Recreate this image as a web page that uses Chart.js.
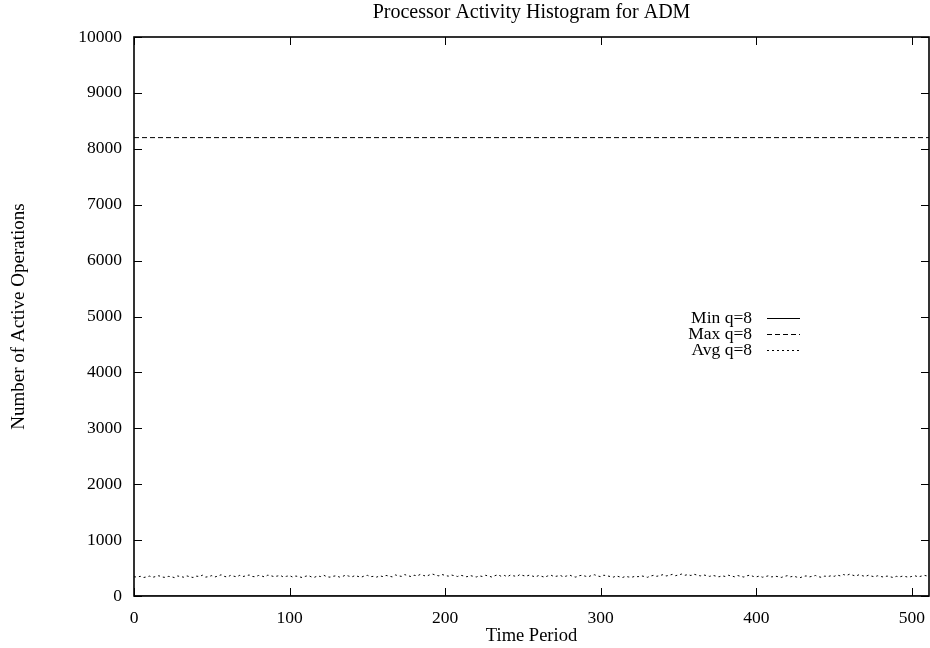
<!DOCTYPE html>
<html>
<head>
<meta charset="utf-8">
<script src="https://cdn.jsdelivr.net/npm/chart.js@4/dist/chart.umd.min.js"></script>
<style>
  html, body { margin: 0; padding: 0; background: #fff; }
  #wrap { width: 930px; height: 648px; }
</style>
</head>
<body>
<div id="wrap"><canvas id="c" width="930" height="648"></canvas></div>
<script>
// ---- data ----
const chartTitle = "Processor Activity Histogram for ADM";
const xTitle = "Time Period";
const yTitle = "Number of Active Operations";
const xTickValues = [0, 100, 200, 300, 400, 500];
const yTickValues = [0, 1000, 2000, 3000, 4000, 5000, 6000, 7000, 8000, 9000, 10000];
const seriesLabels = ["Min q=8", "Max q=8", "Avg q=8"];
const xRange = [0, 511];
const minValues = [0, 0];          // at the two ends of the period range
const maxValues = [8200, 8200];
const avgStep = 2;                  // one sample every 2 time periods
const avgValues = [
  345,338,352,330,341,356,335,348,362,340,333,351,344,329,358,347,
  336,360,342,331,355,349,372,338,346,365,341,357,380,352,339,368,
  355,343,370,348,361,376,350,344,367,358,341,373,362,347,356,369,
  340,352,364,338,357,345,331,350,366,342,335,359,348,371,344,337,
  353,362,339,348,374,356,341,365,350,336,358,370,345,352,338,361,
  347,368,356,342,377,360,351,383,364,348,372,359,386,368,354,379,
  391,372,360,384,369,355,376,362,349,371,358,344,366,353,340,361,
  348,370,357,339,364,380,352,368,345,376,361,349,383,367,354,372,
  358,341,365,352,336,360,373,347,356,369,342,358,375,350,338,362,
  371,355,343,367,380,358,346,372,361,349,337,358,344,331,352,340,
  336,353,345,361,349,334,357,370,352,366,382,358,371,387,363,376,
  392,370,383,366,389,374,360,378,365,351,369,356,343,362,349,371,
  358,344,366,352,339,361,374,350,342,357,336,348,363,341,355,346,
  332,350,364,343,355,338,326,347,360,341,353,367,345,333,356,348,
  362,351,376,359,384,368,390,372,357,380,365,349,371,356,343,362,
  349,338,357,344,331,352,340,356,347,335,351,362,342,355,369,358
];

// ---- build ----
const FONT = "'Liberation Serif', 'Times New Roman', serif";
const minData = xRange.map((x, i) => ({ x: x, y: minValues[i] }));
const maxData = xRange.map((x, i) => ({ x: x, y: maxValues[i] }));
const avgData = avgValues.map((v, i) => ({ x: i * avgStep, y: v }));

const dashes = [[], [5, 3], [2, 3]];

const frameTicks = {
  id: 'frameTicks',
  afterDatasetsDraw(chart) {
    const { ctx, chartArea: a, scales } = chart;
    ctx.save();
    ctx.strokeStyle = '#000';
    ctx.lineWidth = 1;
    const L = 8;
    ctx.beginPath();
    yTickValues.forEach(v => {
      const y = Math.round(scales.y.getPixelForValue(v)) + 0.5;
      ctx.moveTo(a.left, y); ctx.lineTo(a.left + L, y);
      ctx.moveTo(a.right, y); ctx.lineTo(a.right - L, y);
    });
    xTickValues.forEach(v => {
      const x = Math.round(scales.x.getPixelForValue(v)) + 0.5;
      ctx.moveTo(x, a.bottom); ctx.lineTo(x, a.bottom - L);
      ctx.moveTo(x, a.top); ctx.lineTo(x, a.top + L);
    });
    ctx.stroke();
    ctx.lineWidth = 1.6;
    ctx.strokeRect(a.left, a.top, a.right - a.left, a.bottom - a.top);

    // title centred over the plot area
    ctx.fillStyle = '#000';
    ctx.textAlign = 'center';
    ctx.textBaseline = 'middle';
    ctx.font = "20px " + FONT;
    ctx.fillText(chartTitle, (a.left + a.right) / 2, 13);

    // key (legend) inside the plot
    ctx.font = "17.5px " + FONT;
    ctx.textAlign = 'right';
    ctx.textBaseline = 'middle';
    const textX = a.left + 618;
    const lx0 = a.left + 633, lx1 = a.left + 666;
    chart.data.datasets.forEach((ds, i) => {
      const y = a.top + 281 + i * 16;
      ctx.fillText(ds.label, textX, y);
      ctx.beginPath();
      ctx.lineWidth = 1;
      ctx.setLineDash(ds.borderDash || []);
      ctx.moveTo(lx0, Math.round(y) + 0.5);
      ctx.lineTo(lx1, Math.round(y) + 0.5);
      ctx.stroke();
      ctx.setLineDash([]);
    });
    ctx.restore();
  }
};

new Chart(document.getElementById('c'), {
  type: 'line',
  data: {
    datasets: [
      { label: seriesLabels[0], data: minData, borderColor: '#000', borderWidth: 1, borderDash: dashes[0], pointRadius: 0, fill: false },
      { label: seriesLabels[1], data: maxData, borderColor: '#000', borderWidth: 1, borderDash: dashes[1], pointRadius: 0, fill: false },
      { label: seriesLabels[2], data: avgData, borderColor: '#000', borderWidth: 1, borderDash: dashes[2], pointRadius: 0, fill: false }
    ]
  },
  options: {
    responsive: false,
    animation: false,
    layout: { padding: { left: 0, right: 1, top: 37, bottom: 0 } },
    plugins: {
      legend: { display: false },
      tooltip: { enabled: false },
      title: { display: false }
    },
    scales: {
      x: {
        type: 'linear', min: xRange[0], max: xRange[1],
        afterFit: s => { s.height = 52; s.paddingLeft = 0; s.paddingRight = 0; },
        afterBuildTicks: s => { s.ticks = xTickValues.map(v => ({ value: v })); },
        grid: { display: false, drawTicks: false },
        border: { display: false },
        ticks: { color: '#000', padding: 12, maxRotation: 0, font: { family: FONT, size: 17.5 }, callback: v => String(v) },
        title: { display: true, text: xTitle, color: '#000', font: { family: FONT, size: 18.5 }, padding: { top: 0, bottom: 1 } }
      },
      y: {
        type: 'linear', min: 0, max: 10000,
        afterFit: s => { s.width = 134; s.paddingTop = 0; s.paddingBottom = 0; },
        afterBuildTicks: s => { s.ticks = yTickValues.map(v => ({ value: v })); },
        grid: { display: false, drawTicks: false },
        border: { display: false },
        ticks: { color: '#000', padding: 12, font: { family: FONT, size: 17.5 }, callback: v => String(v) },
        title: { display: true, text: yTitle, color: '#000', font: { family: FONT, size: 19 }, padding: { top: 8, bottom: 0 } }
      }
    }
  },
  plugins: [frameTicks]
});
</script>
</body>
</html>
